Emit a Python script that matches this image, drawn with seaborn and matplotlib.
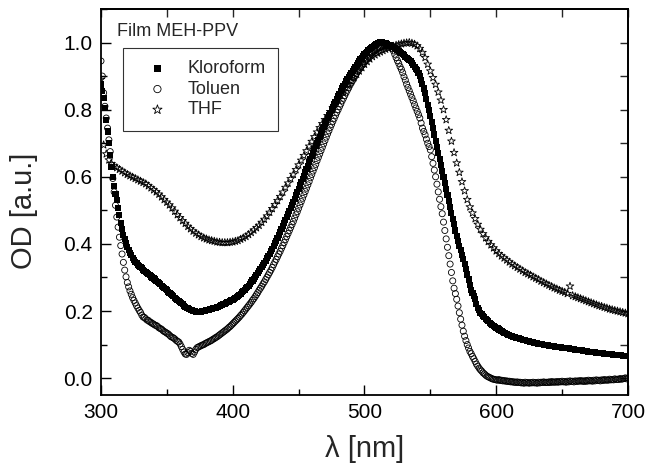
import numpy as np
import seaborn as sns
import matplotlib.pyplot as plt
from matplotlib.ticker import MultipleLocator

# wavelength grids: Kloroform and Toluen every 1 nm, THF every 2 nm
wl_1nm = np.arange(300, 701)
wl_2nm = np.arange(300, 701, 2)

kloroform = [
    0.875, 0.855, 0.835, 0.805, 0.770, 0.735, 0.700, 0.665, 0.630, 0.600,
    0.572, 0.550, 0.530, 0.508, 0.485, 0.463, 0.444, 0.428, 0.414, 0.402,
    0.391, 0.382, 0.374, 0.366, 0.359, 0.352, 0.347, 0.342, 0.338, 0.334,
    0.330, 0.327, 0.323, 0.320, 0.316, 0.313, 0.310, 0.307, 0.303, 0.300,
    0.297, 0.294, 0.290, 0.287, 0.283, 0.280, 0.276, 0.273, 0.269, 0.266,
    0.262, 0.258, 0.255, 0.251, 0.248, 0.244, 0.240, 0.237, 0.233, 0.230,
    0.226, 0.223, 0.220, 0.216, 0.213, 0.210, 0.208, 0.206, 0.204, 0.202,
    0.200, 0.199, 0.198, 0.197, 0.197, 0.197, 0.198, 0.199, 0.200, 0.201,
    0.202, 0.203, 0.204, 0.205, 0.206, 0.208, 0.209, 0.210, 0.212, 0.213,
    0.215, 0.217, 0.218, 0.220, 0.222, 0.224, 0.226, 0.228, 0.230, 0.232,
    0.234, 0.237, 0.240, 0.243, 0.246, 0.249, 0.252, 0.256, 0.260, 0.264,
    0.268, 0.272, 0.276, 0.281, 0.286, 0.291, 0.296, 0.301, 0.307, 0.312,
    0.318, 0.324, 0.330, 0.336, 0.343, 0.350, 0.357, 0.364, 0.371, 0.378,
    0.386, 0.394, 0.402, 0.410, 0.418, 0.426, 0.435, 0.444, 0.452, 0.461,
    0.470, 0.479, 0.488, 0.497, 0.506, 0.516, 0.526, 0.535, 0.545, 0.554,
    0.564, 0.574, 0.584, 0.594, 0.603, 0.613, 0.623, 0.633, 0.643, 0.652,
    0.662, 0.672, 0.682, 0.691, 0.701, 0.710, 0.719, 0.728, 0.738, 0.747,
    0.756, 0.765, 0.774, 0.783, 0.791, 0.800, 0.808, 0.816, 0.824, 0.832,
    0.840, 0.848, 0.855, 0.863, 0.870, 0.877, 0.884, 0.891, 0.897, 0.904,
    0.910, 0.916, 0.922, 0.928, 0.934, 0.940, 0.945, 0.950, 0.955, 0.960,
    0.965, 0.969, 0.973, 0.977, 0.981, 0.985, 0.988, 0.991, 0.994, 0.996,
    0.998, 0.999, 1.000, 1.000, 0.999, 0.998, 0.997, 0.995, 0.994, 0.992,
    0.990, 0.988, 0.986, 0.983, 0.981, 0.978, 0.975, 0.972, 0.969, 0.965,
    0.962, 0.958, 0.955, 0.951, 0.948, 0.944, 0.939, 0.933, 0.928, 0.922,
    0.917, 0.908, 0.899, 0.889, 0.876, 0.863, 0.850, 0.833, 0.815, 0.798,
    0.780, 0.762, 0.744, 0.726, 0.708, 0.690, 0.672, 0.654, 0.636, 0.618,
    0.600, 0.582, 0.564, 0.546, 0.528, 0.510, 0.493, 0.475, 0.458, 0.440,
    0.423, 0.409, 0.395, 0.381, 0.368, 0.354, 0.339, 0.324, 0.309, 0.294,
    0.279, 0.264, 0.254, 0.245, 0.235, 0.222, 0.210, 0.202, 0.195, 0.190,
    0.185, 0.181, 0.177, 0.173, 0.169, 0.165, 0.162, 0.159, 0.156, 0.153,
    0.150, 0.148, 0.145, 0.143, 0.140, 0.138, 0.136, 0.134, 0.132, 0.130,
    0.129, 0.127, 0.126, 0.124, 0.122, 0.121, 0.120, 0.119, 0.117, 0.116,
    0.115, 0.114, 0.113, 0.112, 0.111, 0.110, 0.109, 0.108, 0.107, 0.106,
    0.105, 0.104, 0.103, 0.103, 0.102, 0.101, 0.100, 0.099, 0.099, 0.098,
    0.097, 0.096, 0.096, 0.095, 0.095, 0.094, 0.093, 0.093, 0.092, 0.092,
    0.091, 0.091, 0.090, 0.090, 0.089, 0.089, 0.088, 0.088, 0.087, 0.086,
    0.085, 0.085, 0.084, 0.084, 0.083, 0.083, 0.082, 0.081, 0.081, 0.080,
    0.079, 0.079, 0.078, 0.078, 0.077, 0.077, 0.076, 0.076, 0.075, 0.075,
    0.074, 0.074, 0.073, 0.073, 0.072, 0.072, 0.072, 0.071, 0.071, 0.070,
    0.070, 0.069, 0.069, 0.069, 0.068, 0.068, 0.067, 0.067, 0.067, 0.066,
    0.066,
]

toluen = [
    0.945, 0.900, 0.850, 0.810, 0.775, 0.745, 0.710, 0.675, 0.635, 0.595,
    0.555, 0.515, 0.480, 0.450, 0.420, 0.395, 0.370, 0.345, 0.322, 0.302,
    0.285, 0.272, 0.260, 0.250, 0.240, 0.232, 0.224, 0.216, 0.209, 0.202,
    0.196, 0.188, 0.182, 0.181, 0.177, 0.173, 0.172, 0.168, 0.166, 0.163,
    0.161, 0.158, 0.157, 0.154, 0.150, 0.148, 0.146, 0.142, 0.139, 0.137,
    0.134, 0.132, 0.128, 0.124, 0.122, 0.120, 0.117, 0.113, 0.110, 0.108,
    0.102, 0.094, 0.086, 0.078, 0.072, 0.071, 0.076, 0.083, 0.080, 0.074,
    0.071, 0.078, 0.086, 0.091, 0.093, 0.095, 0.097, 0.099, 0.100, 0.103,
    0.105, 0.107, 0.109, 0.111, 0.113, 0.116, 0.118, 0.121, 0.123, 0.126,
    0.129, 0.132, 0.135, 0.138, 0.141, 0.144, 0.147, 0.151, 0.154, 0.158,
    0.162, 0.166, 0.170, 0.174, 0.178, 0.182, 0.187, 0.191, 0.196, 0.201,
    0.206, 0.211, 0.216, 0.221, 0.226, 0.232, 0.237, 0.243, 0.249, 0.255,
    0.262, 0.268, 0.274, 0.281, 0.287, 0.294, 0.301, 0.308, 0.315, 0.322,
    0.330, 0.338, 0.346, 0.354, 0.362, 0.370, 0.378, 0.387, 0.395, 0.404,
    0.413, 0.422, 0.431, 0.440, 0.449, 0.458, 0.467, 0.477, 0.487, 0.496,
    0.506, 0.516, 0.526, 0.536, 0.546, 0.556, 0.566, 0.576, 0.586, 0.597,
    0.607, 0.617, 0.627, 0.637, 0.648, 0.658, 0.668, 0.678, 0.688, 0.698,
    0.708, 0.718, 0.728, 0.737, 0.747, 0.756, 0.765, 0.774, 0.783, 0.792,
    0.800, 0.809, 0.817, 0.826, 0.834, 0.842, 0.850, 0.858, 0.865, 0.873,
    0.880, 0.887, 0.894, 0.901, 0.908, 0.914, 0.920, 0.926, 0.932, 0.938,
    0.943, 0.948, 0.953, 0.957, 0.962, 0.966, 0.970, 0.973, 0.976, 0.979,
    0.982, 0.984, 0.986, 0.988, 0.989, 0.990, 0.991, 0.991, 0.991, 0.990,
    0.987, 0.982, 0.975, 0.965, 0.955, 0.946, 0.938, 0.928, 0.920, 0.910,
    0.898, 0.888, 0.876, 0.866, 0.856, 0.846, 0.836, 0.826, 0.815, 0.805,
    0.795, 0.785, 0.775, 0.760, 0.745, 0.735, 0.725, 0.712, 0.700, 0.690,
    0.680, 0.660, 0.640, 0.620, 0.600, 0.578, 0.555, 0.533, 0.511, 0.490,
    0.465, 0.440, 0.415, 0.390, 0.365, 0.340, 0.315, 0.290, 0.268, 0.252,
    0.235, 0.215, 0.195, 0.176, 0.158, 0.140, 0.125, 0.112, 0.100, 0.090,
    0.080, 0.073, 0.065, 0.058, 0.050, 0.042, 0.036, 0.030, 0.025, 0.021,
    0.016, 0.013, 0.009, 0.006, 0.004, 0.002, 0.000, -0.002, -0.003, -0.004,
    -0.005, -0.006, -0.004, -0.007, -0.006, -0.008, -0.007, -0.009, -0.008, -0.010,
    -0.009, -0.011, -0.010, -0.012, -0.011, -0.013, -0.011, -0.013, -0.012, -0.014,
    -0.013, -0.015, -0.012, -0.014, -0.013, -0.015, -0.013, -0.014, -0.012, -0.014,
    -0.013, -0.015, -0.012, -0.014, -0.012, -0.013, -0.011, -0.013, -0.012, -0.013,
    -0.011, -0.013, -0.010, -0.012, -0.011, -0.012, -0.010, -0.012, -0.010, -0.011,
    -0.009, -0.011, -0.010, -0.012, -0.009, -0.011, -0.008, -0.010, -0.009, -0.011,
    -0.008, -0.010, -0.008, -0.009, -0.007, -0.009, -0.008, -0.010, -0.007, -0.009,
    -0.006, -0.008, -0.007, -0.009, -0.006, -0.008, -0.005, -0.007, -0.006, -0.008,
    -0.005, -0.007, -0.004, -0.006, -0.005, -0.006, -0.003, -0.005, -0.004, -0.005,
    -0.002, -0.004, -0.003, -0.004, -0.001, -0.003, -0.002, -0.001, 0.001, -0.002,
    0.000,
]

thf = [
    0.890, 0.695, 0.668, 0.650, 0.639, 0.632, 0.627, 0.622, 0.617, 0.612,
    0.607, 0.603, 0.599, 0.595, 0.591, 0.587, 0.583, 0.579, 0.573, 0.567,
    0.561, 0.555, 0.548, 0.540, 0.532, 0.524, 0.516, 0.507, 0.497, 0.487,
    0.478, 0.469, 0.461, 0.452, 0.445, 0.438, 0.432, 0.427, 0.422, 0.418,
    0.415, 0.412, 0.410, 0.408, 0.406, 0.405, 0.404, 0.404, 0.404, 0.405,
    0.406, 0.408, 0.410, 0.414, 0.418, 0.422, 0.428, 0.434, 0.441, 0.448,
    0.455, 0.464, 0.473, 0.483, 0.494, 0.505, 0.517, 0.529, 0.541, 0.554,
    0.568, 0.581, 0.594, 0.607, 0.621, 0.635, 0.649, 0.663, 0.677, 0.691,
    0.705, 0.719, 0.733, 0.746, 0.758, 0.770, 0.782, 0.794, 0.806, 0.818,
    0.830, 0.842, 0.854, 0.865, 0.875, 0.885, 0.895, 0.905, 0.915, 0.925,
    0.935, 0.943, 0.951, 0.958, 0.963, 0.968, 0.972, 0.976, 0.980, 0.983,
    0.986, 0.989, 0.992, 0.994, 0.996, 0.998, 0.999, 1.000, 0.998, 0.995,
    0.990, 0.982, 0.970, 0.955, 0.935, 0.915, 0.895, 0.875, 0.852, 0.828,
    0.800, 0.770, 0.738, 0.706, 0.672, 0.641, 0.613, 0.585, 0.558, 0.532,
    0.510, 0.492, 0.475, 0.458, 0.443, 0.430, 0.418, 0.407, 0.397, 0.388,
    0.379, 0.371, 0.364, 0.358, 0.352, 0.346, 0.340, 0.335, 0.330, 0.325,
    0.320, 0.315, 0.311, 0.307, 0.302, 0.298, 0.294, 0.289, 0.285, 0.281,
    0.277, 0.273, 0.269, 0.266, 0.262, 0.259, 0.256, 0.252, 0.274, 0.246,
    0.243, 0.240, 0.237, 0.234, 0.231, 0.228, 0.225, 0.222, 0.219, 0.216,
    0.214, 0.211, 0.209, 0.206, 0.204, 0.202, 0.200, 0.198, 0.196, 0.194,
    0.192,
]

sns.set_theme(style="ticks")
plt.rcParams['font.family'] = ['Liberation Sans', 'DejaVu Sans']

fig = plt.figure(figsize=(6.49, 4.76), dpi=100)
ax = fig.add_axes([0.1556, 0.1702, 0.812, 0.811])

sns.scatterplot(x=wl_1nm, y=kloroform, marker='s', s=19, color='black',
                edgecolor='none', label='Kloroform', ax=ax)
sns.scatterplot(x=wl_1nm, y=toluen, marker='o', s=19, facecolors='none',
                edgecolors='black', linewidth=0.6, label='Toluen', ax=ax)
sns.scatterplot(x=wl_2nm, y=thf, marker='*', s=34, facecolors='none',
                edgecolors='black', linewidth=0.6, label='THF', ax=ax)

ax.set_xlim(300, 700)
ax.set_ylim(-0.05, 1.1)
ax.xaxis.set_major_locator(MultipleLocator(100))
ax.xaxis.set_minor_locator(MultipleLocator(50))
ax.yaxis.set_major_locator(MultipleLocator(0.2))
ax.yaxis.set_minor_locator(MultipleLocator(0.1))
ax.yaxis.set_major_formatter(plt.FormatStrFormatter('%.1f'))
ax.tick_params(which='both', direction='in', colors='black', labelsize=15)
ax.tick_params(which='major', length=7, width=1.0, pad=6)
ax.tick_params(which='minor', length=4, width=1.0)

# top / right: all ticks the same length, no labels
top = ax.secondary_xaxis('top')
top.set_xticks(np.arange(300, 701, 50))
top.tick_params(direction='in', length=6, width=1.0, labeltop=False)
right = ax.secondary_yaxis('right')
right.set_yticks(np.arange(0, 1.01, 0.1))
right.tick_params(direction='in', length=6, width=1.0, labelright=False)

for a in (ax, top, right):
    for sp in a.spines.values():
        sp.set_linewidth(1.3)
        sp.set_color('black')

ax.set_xlabel('λ [nm]', fontsize=21, labelpad=9)
ax.set_ylabel('OD [a.u.]', fontsize=21)
ax.yaxis.set_label_coords(-0.12, 0.477)

ax.text(0.03, 0.941, 'Film MEH-PPV', transform=ax.transAxes, fontsize=13,
        va='center', ha='left')
leg = ax.legend(loc='upper left', bbox_to_anchor=(0.042, 0.9), borderaxespad=0,
                fontsize=13, frameon=True, fancybox=False, borderpad=0.7,
                handlelength=2.4, handletextpad=0.45, labelspacing=0.2,
                markerscale=1.2)
leg.get_frame().set_edgecolor('black')
leg.get_frame().set_linewidth(0.8)

fig.savefig('out.png', dpi=100)
